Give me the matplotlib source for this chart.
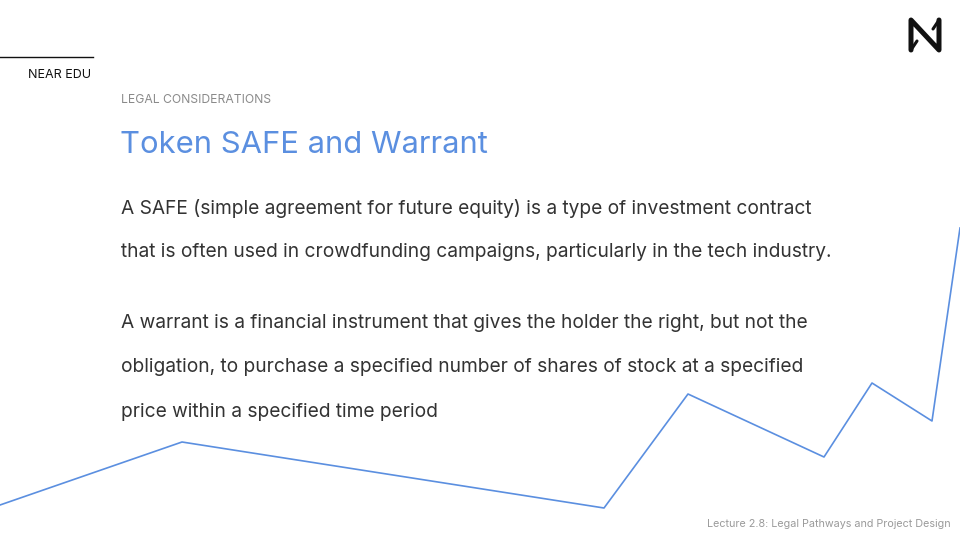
import matplotlib.pyplot as plt

# decorative trend line along the bottom of the slide (pixel space)
trend_x = [0, 182, 604, 688, 824, 872, 932, 960]
trend_y = [505, 442, 508, 394, 457, 383, 421, 228]

header = "NEAR EDU"
section = "LEGAL CONSIDERATIONS"
title = "Token SAFE and Warrant"
body_lines = [
    "A SAFE (simple agreement for future equity) is a type of investment contract",
    "that is often used in crowdfunding campaigns, particularly in the tech industry.",
    "A warrant is a financial instrument that gives the holder the right, but not the",
    "obligation, to purchase a specified number of shares of stock at a specified",
    "price within a specified time period",
]
body_y = [208, 252, 323, 367, 412]
footer = "Lecture 2.8: Legal Pathways and Project Design"

BLUE = "#5b8fe0"
FONT = ["Inter", "DejaVu Sans"]


def main() -> None:
    fig = plt.figure(figsize=(9.6, 5.4), dpi=100)
    ax = fig.add_axes([0, 0, 1, 1])
    ax.set_xlim(0, 960)
    ax.set_ylim(540, 0)
    ax.axis("off")

    ax.plot(trend_x, trend_y, color=BLUE, linewidth=1.2, clip_on=False)

    # header rule + label
    ax.plot([0, 93], [57, 57], color="#111111", linewidth=1.0)
    ax.text(91, 75, header, ha="right", va="center", fontsize=9, color="#111111", family=FONT)

    # NEAR logo, rough strokes
    ax.plot([911, 911, 939, 939], [50, 20, 50, 20], color="#111111", linewidth=3.6,
            solid_capstyle="round", solid_joinstyle="round")
    ax.plot([911, 917], [50, 41], color="#111111", linewidth=2.2, solid_capstyle="round")
    ax.plot([939, 933], [20, 29], color="#111111", linewidth=2.2, solid_capstyle="round")

    ax.text(121, 100, section, ha="left", va="center", fontsize=8.75, color="#8a8a8a", family=FONT)
    ax.text(120, 145, title, ha="left", va="center", fontsize=22.3, color=BLUE, family=FONT)

    for line, y in zip(body_lines, body_y):
        ax.text(121, y, line, ha="left", va="center", fontsize=13.8, color="#333333", family=FONT)

    ax.text(951, 524, footer, ha="right", va="center", fontsize=7.75, color="#9a9a9a", family=FONT)

    fig.savefig("out.png", dpi=100, facecolor="white")
    plt.close(fig)


if __name__ == "__main__":
    main()
